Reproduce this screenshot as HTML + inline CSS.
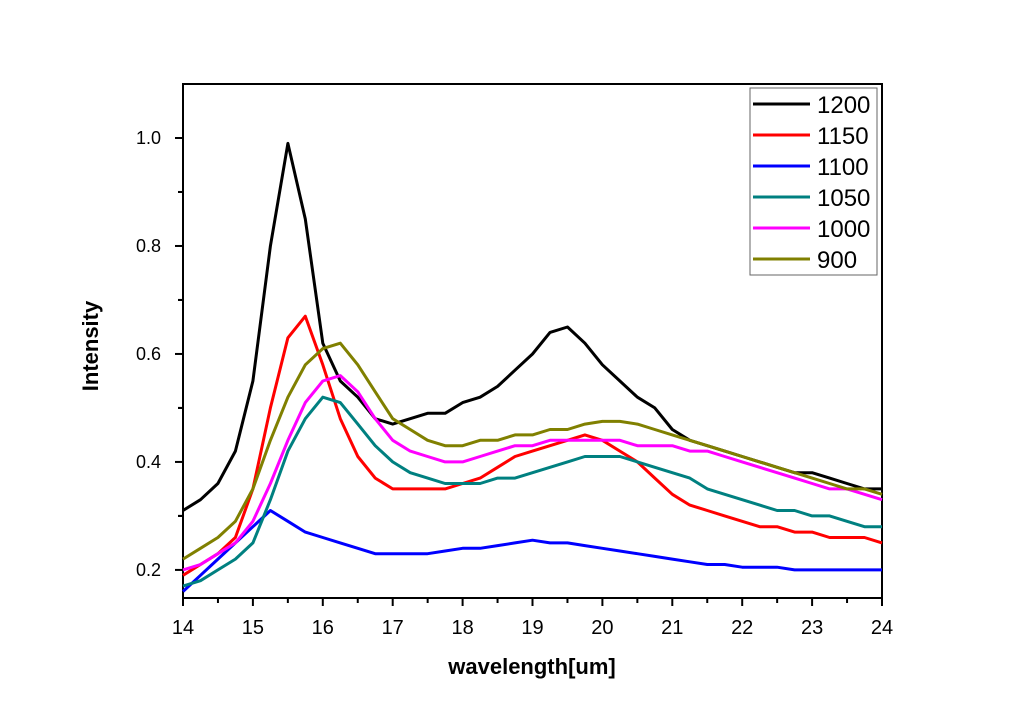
<!DOCTYPE html>
<html><head><meta charset="utf-8"><style>
body{margin:0;background:#fff;}
svg{display:block;font-family:"Liberation Sans",Arial,sans-serif;}
</style></head><body>
<svg id="chart" width="1024" height="718">
<g id="axes"></g><g id="series"></g><g id="legend"></g>
</svg>
<script>
const xGrid=[14,14.25,14.5,14.75,15,15.25,15.5,15.75,16,16.25,16.5,16.75,17,17.25,17.5,17.75,18,18.25,18.5,18.75,19,19.25,19.5,19.75,20,20.25,20.5,20.75,21,21.25,21.5,21.75,22,22.25,22.5,22.75,23,23.25,23.5,23.75,24];
const seriesNames=["1200","1150","1100","1050","1000","900"];
const seriesColors=["#000000","#ff0000","#0000ff","#008080","#ff00ff","#808000"];
const s1200=[.31,.33,.36,.42,.55,.80,.99,.85,.62,.55,.52,.48,.47,.48,.49,.49,.51,.52,.54,.57,.60,.64,.65,.62,.58,.55,.52,.50,.46,.44,.43,.42,.41,.40,.39,.38,.38,.37,.36,.35,.35];
const s1150=[.19,.21,.23,.26,.35,.50,.63,.67,.58,.48,.41,.37,.35,.35,.35,.35,.36,.37,.39,.41,.42,.43,.44,.45,.44,.42,.40,.37,.34,.32,.31,.30,.29,.28,.28,.27,.27,.26,.26,.26,.25];
const s1100=[.16,.19,.22,.25,.28,.31,.29,.27,.26,.25,.24,.23,.23,.23,.23,.235,.24,.24,.245,.25,.255,.25,.25,.245,.24,.235,.23,.225,.22,.215,.21,.21,.205,.205,.205,.2,.2,.2,.2,.2,.2];
const s1050=[.17,.18,.20,.22,.25,.33,.42,.48,.52,.51,.47,.43,.40,.38,.37,.36,.36,.36,.37,.37,.38,.39,.40,.41,.41,.41,.40,.39,.38,.37,.35,.34,.33,.32,.31,.31,.30,.30,.29,.28,.28];
const s1000=[.20,.21,.23,.25,.29,.36,.44,.51,.55,.56,.53,.48,.44,.42,.41,.40,.40,.41,.42,.43,.43,.44,.44,.44,.44,.44,.43,.43,.43,.42,.42,.41,.40,.39,.38,.37,.36,.35,.35,.34,.33];
const s900=[.22,.24,.26,.29,.35,.44,.52,.58,.61,.62,.58,.53,.48,.46,.44,.43,.43,.44,.44,.45,.45,.46,.46,.47,.475,.475,.47,.46,.45,.44,.43,.42,.41,.40,.39,.38,.37,.36,.35,.35,.34];
const allSeries=[s1200,s1150,s1100,s1050,s1000,s900];
const xTicks=[14,15,16,17,18,19,20,21,22,23,24];
const yTicks=[0.2,0.4,0.6,0.8,1.0];

const L=183,R=882,T=84,B=598,X0=14,X1=24,Y0=0.148,Y1=1.1;
const sx=v=>L+(v-X0)/(X1-X0)*(R-L);
const sy=v=>B-(v-Y0)/(Y1-Y0)*(B-T);
const NS="http://www.w3.org/2000/svg";
function mk(tag,attrs,parent){const e=document.createElementNS(NS,tag);for(const k in attrs)e.setAttribute(k,attrs[k]);parent.appendChild(e);return e;}
const axes=document.getElementById('axes');
const frame=mk('rect',{x:L,y:T,width:R-L,height:B-T,fill:'none',stroke:'#000','stroke-width':2},axes);


xTicks.forEach((t,i)=>{
  const x=sx(t);
  const tk=mk('line',{x1:x,y1:B,x2:x,y2:B+8,stroke:'#000','stroke-width':2},axes);
  
  
  if(i<xTicks.length-1){const m=mk('line',{x1:sx(t+0.5),y1:B,x2:sx(t+0.5),y2:B+5,stroke:'#000','stroke-width':2},axes);
    
    }
  const lb=mk('text',{x:x,y:B+36,'text-anchor':'middle','font-size':20},axes);
  lb.textContent=t;
  
  
});
yTicks.forEach((t,i)=>{
  const y=sy(t);
  const tk=mk('line',{x1:L-8,y1:y,x2:L,y2:y,stroke:'#000','stroke-width':2},axes);
  
  
  [t-0.1,t+0.1].forEach(m=>{ if(m>Y0&&m<Y1){const mm=mk('line',{x1:L-5,y1:sy(m),x2:L,y2:sy(m),stroke:'#000','stroke-width':2},axes);
    
    }});
  const lb=mk('text',{x:L-22,y:y+6,'text-anchor':'end','font-size':18},axes);
  lb.textContent=t.toFixed(1);
  
  
});
const xt=mk('text',{x:532,y:674,'text-anchor':'middle','font-size':22,'font-weight':'bold'},axes);
xt.textContent='wavelength[um]';


const yt=mk('text',{x:0,y:0,'text-anchor':'middle','font-size':22,'font-weight':'bold',transform:'translate(98,346) rotate(-90)'},axes);
yt.textContent='Intensity';


const sg=document.getElementById('series');
allSeries.forEach((s,i)=>{
  const d=s.map((v,j)=>(j?'L':'M')+sx(xGrid[j]).toFixed(1)+','+sy(v).toFixed(1)).join('');
  const p=mk('path',{d:d,fill:'none',stroke:seriesColors[i],'stroke-width':3,'stroke-linejoin':'round'},sg);
  
  
});
const lg=document.getElementById('legend');
const box=mk('rect',{x:750,y:88,width:127,height:187,fill:'#fff',stroke:'#666','stroke-width':1},lg);


seriesNames.forEach((n,i)=>{
  const y=104+i*31;
  const ln=mk('line',{x1:753,y1:y,x2:810,y2:y,stroke:seriesColors[i],'stroke-width':3},lg);
  
  
  const t=mk('text',{x:817,y:y+9,'font-size':24},lg);
  t.textContent=n;
  
  
});
</script>
</body></html>
